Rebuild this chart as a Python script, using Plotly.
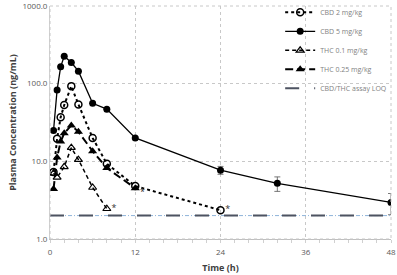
import plotly.graph_objects as go

# Data (time in h, concentration in ng/mL)
t_cbd2 = [0.5, 1, 1.5, 2, 3, 4, 6, 8, 12, 24]
cbd2 = [7.3, 19.5, 37, 53, 93, 54, 20, 9.3, 4.8, 2.35]

t_cbd5 = [0.5, 1, 1.5, 2, 3, 4, 6, 8, 12, 24, 32, 48]
cbd5 = [25, 83, 165, 226, 187, 145, 56, 47, 20, 7.7, 5.2, 2.95]
cbd5_err = [0, 0, 0, 0, 0, 0, 0, 0, 0, 0.9, 1.1, 0.9]

t_thc01 = [0.5, 1, 2, 3, 4, 6, 8]
thc01 = [7.0, 6.2, 8.5, 15, 10.5, 4.6, 2.45]

t_thc025 = [0.5, 1, 1.5, 2, 3, 4, 6, 8, 12]
thc025 = [4.4, 11.2, 18, 23, 29, 24, 13.5, 8.2, 4.5]

t_loq = [0, 48]
loq = [2.0, 2.0]

star_t = [8, 12, 24]
star_y = [2.45, 4.5, 2.35]
star_pos = ["middle right", "bottom right", "middle right"]

x_ticks = [0, 12, 24, 36, 48]
y_ticks = [1, 10, 100, 1000]
y_labels = ["1.0", "10.0", "100.0", "1000.0"]

fig = go.Figure()

fig.add_trace(go.Scatter(x=t_cbd2, y=cbd2, name="CBD 2 mg/kg", mode="lines+markers",
                         line=dict(color="black", width=2, dash="dot"),
                         marker=dict(symbol="circle-open", size=7, color="black", line=dict(width=1.5))))
fig.add_trace(go.Scatter(x=t_cbd5, y=cbd5, name="CBD 5 mg/kg", mode="lines+markers",
                         line=dict(color="black", width=1.3),
                         marker=dict(symbol="circle", size=7, color="black"),
                         error_y=dict(type="data", array=cbd5_err, color="#555555", thickness=0.8, width=3)))
fig.add_trace(go.Scatter(x=t_thc01, y=thc01, name="THC 0.1 mg/kg", mode="lines+markers",
                         line=dict(color="black", width=1.5, dash="4px,3px"),
                         marker=dict(symbol="triangle-up-open", size=7, color="black", line=dict(width=1.2))))
fig.add_trace(go.Scatter(x=t_thc025, y=thc025, name="THC 0.25 mg/kg", mode="lines+markers",
                         line=dict(color="black", width=2, dash="8px,4px"),
                         marker=dict(symbol="triangle-up", size=8, color="black")))
fig.add_trace(go.Scatter(x=t_loq, y=loq, showlegend=False, mode="lines", hoverinfo="skip",
                         line=dict(color="#8fb3d9", width=1, dash="4px,2px,1px,2px")))
fig.add_trace(go.Scatter(x=t_loq, y=loq, name="CBD/THC assay LOQ", mode="lines",
                         line=dict(color="#4d5361", width=2, dash="14px,15px")))
fig.add_trace(go.Scatter(x=star_t, y=star_y, mode="text", text=["  *"] * 3, showlegend=False,
                         textposition=star_pos, hoverinfo="skip",
                         textfont=dict(size=9, color="#333333")))

axis_font = dict(family="Open Sans, DejaVu Sans, sans-serif", size=8, color="#595959")

fig.update_layout(
    width=397, height=275,
    margin=dict(l=50, r=6, t=6, b=36, autoexpand=False),
    paper_bgcolor="white", plot_bgcolor="white",
    font=axis_font,
    legend=dict(x=0.675, y=1.035, xanchor="left", yanchor="top",
                bgcolor="rgba(255,255,255,0)", font=dict(size=7, color="#7f7f7f"),
                itemwidth=30, tracegroupgap=0),
    xaxis=dict(range=[0, 48], tickvals=x_ticks, showgrid=True, gridcolor="#c8c8c8", griddash="dot",
               gridwidth=1, zeroline=False, showline=True, linecolor="#bfbfbf", mirror=False,
               ticks="", tickfont=axis_font, automargin=False, ticklabelstandoff=5,
               ticklabeloverflow="allow",
               minor=dict(dtick=2, ticks="outside", ticklen=3, tickcolor="#d0d0d0", showgrid=False),
               title=dict(text="<b>Time (h)</b>", font=dict(size=9, color="#404040"), standoff=9)),
    yaxis=dict(type="log", range=[-0.0005, 3.0005], tickvals=y_ticks, ticktext=y_labels,
               showgrid=True, gridcolor="#c8c8c8", griddash="dot", zeroline=False, automargin=False,
               showline=True, linecolor="#d0d0d0", ticks="", tickfont=axis_font,
               ticklabeloverflow="allow",
               title=dict(text="<b>Plasma Concentration (ng/mL)</b>", font=dict(size=9, color="#404040"),
                          standoff=4)),
)
fig.add_shape(type="rect", xref="paper", yref="paper", x0=0, y0=0, x1=1, y1=1,
              line=dict(color="#c8c8c8", width=1, dash="dot"))

fig.write_html("out.html", config={"displayModeBar": False},
               post_script="document.body.style.margin='0';document.body.style.overflow='hidden';")
